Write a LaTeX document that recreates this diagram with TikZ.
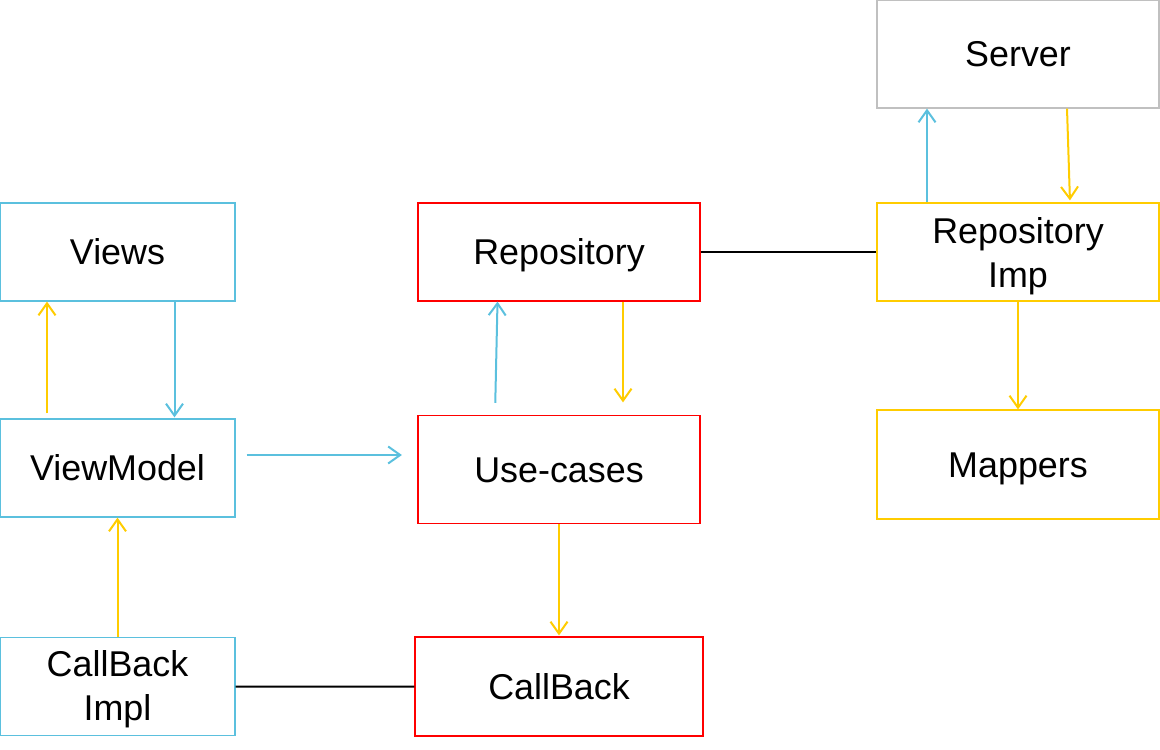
\documentclass[tikz,border=0pt]{standalone}
\usepackage{fontspec}
\setmainfont{Liberation Sans}
\usetikzlibrary{positioning,arrows.meta}
\definecolor{viewblue}{RGB}{91,192,222}
\definecolor{flowyellow}{RGB}{255,204,0}
\definecolor{boxred}{RGB}{255,0,0}
\definecolor{boxgray}{RGB}{192,192,192}

\begin{document}
\begin{tikzpicture}[x=1bp,y=-1bp,on grid,line width=1.2bp]
\tikzset{>={Straight Barb[length=12bp,width=17bp]}}
\tikzset{box/.style={draw,rectangle,inner sep=0pt,minimum width=282bp,minimum height=98bp,
    align=center,font=\fontsize{36pt}{44pt}\selectfont},
  oneline/.style={text height=30pt,text depth=4pt}}
\useasboundingbox (0,0) rectangle (1160,750);
\begin{scope}[every node/.style={box}]
  \node[oneline,draw=viewblue,minimum width=235bp] (views) at (117.5,252) {Views};
  \node[oneline,draw=viewblue,minimum width=235bp] (viewmodel) [below=216bp of views] {ViewModel};
  \node[draw=viewblue,minimum width=235bp] (callbackimpl) [below=218.5bp of viewmodel]
       {\rule{0pt}{32pt}CallBack\\Impl};
  \node[oneline,draw=boxred] (repository) [right=441.5bp of views] {Repository};
  \node[oneline,draw=boxred,minimum height=108bp] (usecases) [below=217.5bp of repository] {Use-cases};
  \node[oneline,draw=boxred,minimum width=288bp,minimum height=99bp] (callback) [below=217bp of usecases] {CallBack};
  \node[draw=flowyellow] (repoimp) [right=459bp of repository] {\rule{0pt}{34pt}Repository\\Imp};
  \node[oneline,draw=boxgray,minimum height=108bp] (server) [above=198bp of repoimp] {Server};
  \node[oneline,draw=flowyellow,minimum height=109bp] (mappers) [below=212.5bp of repoimp] {Mappers};
\end{scope}
\begin{scope}[line width=2bp]
  \path[->,viewblue] ([xshift=57bp]views.south) edge [shorten >=1bp] ([xshift=57bp]viewmodel.north);
  \path[->,flowyellow] ([xshift=-70.5bp]viewmodel.north) edge [shorten <=5bp] ([xshift=-70.5bp]views.south);
  \path[->,flowyellow] (callbackimpl.north) edge (viewmodel.south);
  \path[->,viewblue] ([yshift=13bp]viewmodel.east) edge [shorten <=11bp,shorten >=15.5bp]
       ([yshift=13bp]viewmodel.east -| usecases.west);
  \path[->,viewblue] ([xshift=-64bp]usecases.north) edge [shorten <=12bp] ([xshift=-61.5bp]repository.south);
  \path[->,flowyellow] ([xshift=64bp]repository.south) edge [shorten >=12.5bp] ([xshift=64bp]usecases.north);
  \path[->,flowyellow] (usecases.south) edge [shorten >=1bp] (callback.north);
  \path[->,viewblue] ([xshift=-91bp]repoimp.north) edge ([xshift=-91bp]server.south);
  \path[->,flowyellow] ([xshift=49bp]server.south) edge [shorten >=2bp] ([xshift=52bp]repoimp.north);
  \path[->,flowyellow] (repoimp.south) edge (mappers.north);
  \path[-] (repository) edge (repoimp);
  \path[-] (callbackimpl) edge (callback);
\end{scope}
\end{tikzpicture}
\end{document}
